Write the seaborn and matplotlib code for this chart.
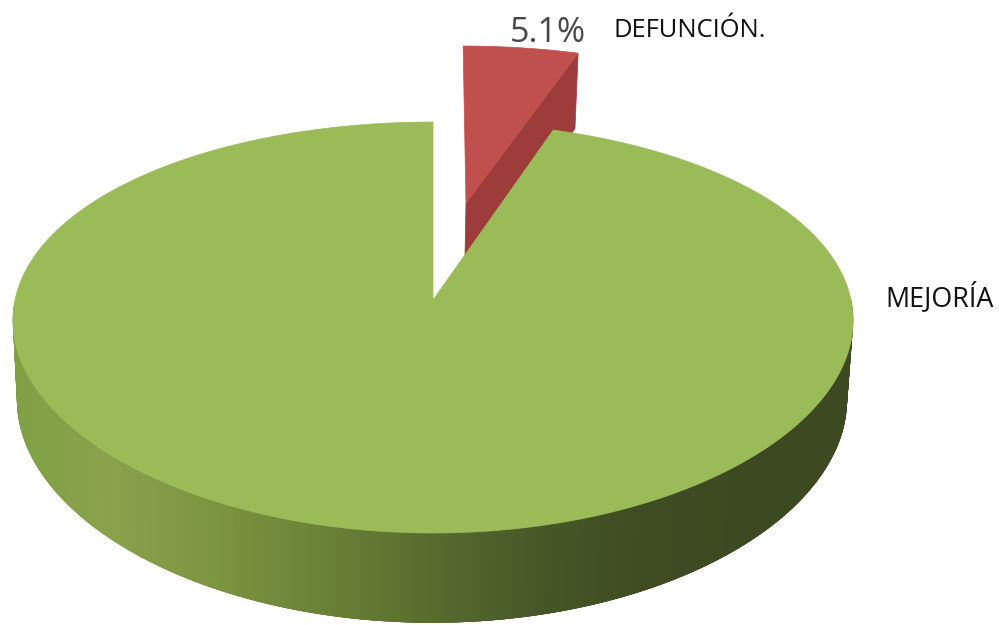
import numpy as np
import matplotlib
matplotlib.use("Agg")
import matplotlib.pyplot as plt
import seaborn as sns

# Data
labels = ["DEFUNCIÓN.", "MEJORÍA"]
values = [5.1, 94.9]
explode = [0.52, 0.0]
shown_pct = "5.1%"

# Styles
top_colors = ["#c0504d", "#9bbb59"]
red_side = "#9e3b3b"
wall_stops = ["#80a044", "#8aa24c", "#7b9440", "#6a8236", "#586c2e", "#465827", "#3f4c22", "#3d4a21", "#3d4a21"]
PX_W, PX_H = 999, 625

sns.set_theme(style="white")
plt.rcParams["font.family"] = ["Open Sans", "DejaVu Sans"]

fig = plt.figure(figsize=(PX_W / 100, PX_H / 100), dpi=100, facecolor="white")
ax = fig.add_axes([0, 0, 1, 1])

# Library pie gives the angles and the explode offsets of each slice
wedges, _ = ax.pie(values, explode=explode, startangle=90, counterclock=False,
                   colors=top_colors, radius=1)
geom = [(w.center, w.r, w.theta1, w.theta2) for w in wedges]
for w in wedges:
    w.remove()
ax.set_aspect("auto")
ax.set_xlim(0, PX_W)
ax.set_ylim(PX_H, 0)
ax.axis("off")

TILT_Y = 0.1338
TILT_X = 0.10


def project(x, y, level):
    """Perspective view of the flat pie; level 0 = top face, 1 = bottom face."""
    cx = 433.0 - level
    cy = 300.0 + 78.0 * level
    rx = 418.0 - 5.0 * level
    ry = 201.8 + 10.2 * level
    return cx + rx * x / (1 + TILT_X * y), cy - ry * y / (1 + TILT_Y * y)


def outline(center, r, t1, t2, level=0, n=400):
    t = np.radians(np.linspace(t1, t2, n))
    xs = np.r_[center[0], center[0] + r * np.cos(t)]
    ys = np.r_[center[1], center[1] + r * np.sin(t)]
    return project(xs, ys, level)


red, green = geom

# Red slice: cut face (partly hidden by the green slice), then top face
RED_DEPTH = 1.15
c, r, t1, t2 = red
edge = np.radians(min(t1, t2))
ex, ey = c[0] + r * np.cos(edge), c[1] + r * np.sin(edge)
p = [project(c[0], c[1], 0), project(ex, ey, 0),
     project(ex, ey, RED_DEPTH), project(c[0], c[1], RED_DEPTH)]
ax.fill([q[0] for q in p], [q[1] for q in p], color=red_side, lw=0.5, zorder=2)
ax.fill(*outline(c, r, t1, t2), color=top_colors[0], lw=0.5, zorder=3)

# Green slice: shaded wall in the front half, then top face
wall_cmap = sns.blend_palette(wall_stops, as_cmap=True)
c, r, t1, t2 = green
steps = np.radians(np.linspace(180, 360, 361))
for i in range(len(steps) - 1):
    tt = np.linspace(steps[i], steps[min(i + 4, len(steps) - 1)], 5)
    x0, y0 = project(c[0] + r * np.cos(tt), c[1] + r * np.sin(tt), 0)
    x1, y1 = project(c[0] + r * np.cos(tt), c[1] + r * np.sin(tt), 1)
    ax.fill(np.r_[x0, x1[::-1]], np.r_[y0, y1[::-1]],
            color=wall_cmap(float(x0[0]) / 860), lw=0, zorder=4)
ax.fill(*outline(c, r, t1, t2), color=top_colors[1], lw=0.5, zorder=5)

# Labels
ax.text(510, 41.5, shown_pct, color="#484848", fontsize=24.5, va="baseline", ha="left", zorder=6)
ax.text(613, 37, labels[0], color="#111111", fontsize=18.4, va="baseline", ha="left", zorder=6)
ax.text(885, 306.5, labels[1], color="#111111", fontsize=19.4, va="baseline", ha="left", zorder=6)

fig.savefig("out.png", dpi=100, facecolor="white")
